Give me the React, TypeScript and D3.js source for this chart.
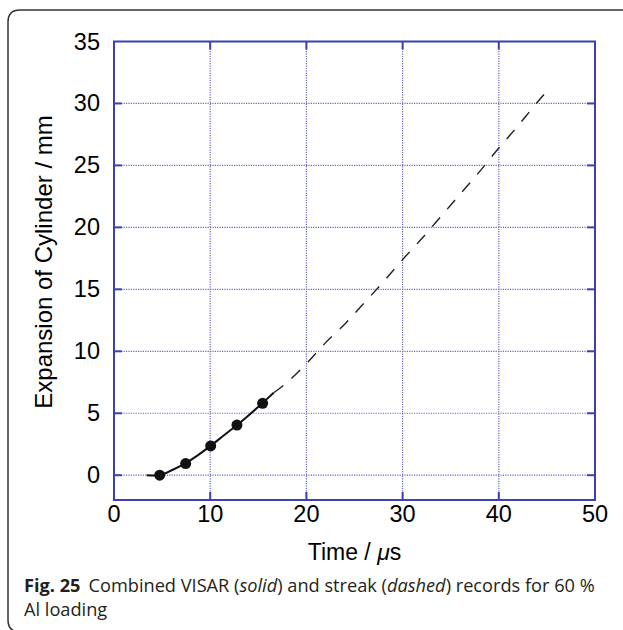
import React from "react";
import * as d3 from "d3";

const xTicks = [0, 10, 20, 30, 40, 50];
const yTicks = [0, 5, 10, 15, 20, 25, 30, 35];

// VISAR (solid) record
const solidT = [3.4, 4.7, 6.0, 7.4, 8.7, 10.0, 11.4, 12.8, 14.1, 15.4, 16.6];
const solidV = [0, 0, 0.4, 0.95, 1.6, 2.35, 3.2, 4.05, 4.9, 5.8, 6.65];
// VISAR markers
const markT = [4.75, 7.45, 10.05, 12.78, 15.45];
const markV = [0, 0.94, 2.36, 4.05, 5.8];
// streak (dashed) record
const dashT = [16.6, 18, 20, 22, 24, 26, 28, 30, 32, 34, 36, 38, 40, 42, 44, 45];
const dashV = [6.65, 7.5, 9.0, 10.7, 12.2, 13.9, 15.6, 17.4, 19.1, 20.9, 22.7, 24.5, 26.4, 28.2, 30.1, 31.0];

const W = 623;
const H = 630;
const L = 114, R = 595, T = 41.5, B = 500;

export default function App() {
  const x = d3.scaleLinear().domain([0, 50]).range([L, R]);
  const y = d3.scaleLinear().domain([-2, 35]).range([B, T]);
  const line = d3
    .line<[number, number]>()
    .x((d) => x(d[0]))
    .y((d) => y(d[1]))
    .curve(d3.curveCatmullRom);
  const solid = solidT.map((t, i) => [t, solidV[i]] as [number, number]);
  const dashed = dashT.map((t, i) => [t, dashV[i]] as [number, number]);
  const blue = "#3c40b8";
  const grid = "#6a6ac4";
  const tick = 8;
  const font = "'Liberation Sans', Arial, sans-serif";
  const capFont = "'Open Sans', 'Noto Sans', sans-serif";
  return (
    <svg
      width={W}
      height={H}
      style={{ position: "absolute", left: 0, top: 0, background: "#fff" }}
    >
      <path
        d="M640,10 L20,10 Q8,10 8,22 L8,620 Q8,632 20,632 L640,632"
        fill="none"
        stroke="#333"
        strokeWidth={1.5}
      />
      {/* grid */}
      {xTicks.slice(1, -1).map((t) => (
        <line
          key={"gx" + t}
          x1={x(t)}
          x2={x(t)}
          y1={T}
          y2={B}
          stroke={grid}
          strokeWidth={1.2}
          strokeDasharray="1.2 1.2"
        />
      ))}
      {yTicks.filter((t) => t < 35).map((t) => (
        <line
          key={"gy" + t}
          x1={L}
          x2={R}
          y1={y(t)}
          y2={y(t)}
          stroke={grid}
          strokeWidth={1.2}
          strokeDasharray="1.2 1.2"
        />
      ))}
      {/* ticks */}
      {xTicks.slice(1, -1).map((t) => (
        <g key={"tx" + t} stroke={blue} strokeWidth={2}>
          <line x1={x(t)} x2={x(t)} y1={B} y2={B - tick} />
          <line x1={x(t)} x2={x(t)} y1={T} y2={T + tick} />
        </g>
      ))}
      {yTicks.filter((t) => t < 35).map((t) => (
        <g key={"ty" + t} stroke={blue} strokeWidth={2}>
          <line x1={L} x2={L + tick} y1={y(t)} y2={y(t)} />
          <line x1={R} x2={R - tick} y1={y(t)} y2={y(t)} />
        </g>
      ))}
      <rect
        x={L}
        y={T}
        width={R - L}
        height={B - T}
        fill="none"
        stroke={blue}
        strokeWidth={2}
      />
      {/* data */}
      <path d={line(solid) || ""} fill="none" stroke="#111" strokeWidth={2} />
      <path
        d={line(dashed) || ""}
        fill="none"
        stroke="#222"
        strokeWidth={1.4}
        strokeDasharray="12 11"
      />
      {markT.map((t, i) => (
        <circle key={"m" + i} cx={x(t)} cy={y(markV[i])} r={5.5} fill="#111" />
      ))}
      {/* tick labels */}
      {yTicks.map((t) => (
        <text
          key={"ly" + t}
          x={100}
          y={y(t)}
          textAnchor="end"
          dominantBaseline="central"
          fontFamily={font}
          fontSize={23.5}
          fill="#000"
        >
          {t}
        </text>
      ))}
      {xTicks.map((t) => (
        <text
          key={"lx" + t}
          x={x(t)}
          y={514}
          textAnchor="middle"
          dominantBaseline="central"
          fontFamily={font}
          fontSize={23.5}
          fill="#000"
        >
          {t}
        </text>
      ))}
      <text
        transform={`translate(43,262) rotate(-90)`}
        textAnchor="middle"
        dominantBaseline="central"
        fontFamily={font}
        fontSize={24}
        fill="#000"
      >
        Expansion of Cylinder / mm
      </text>
      <text
        x={(L + R) / 2}
        y={552}
        textAnchor="middle"
        dominantBaseline="central"
        fontFamily={font}
        fontSize={23}
        fill="#000"
      >
        Time / <tspan fontStyle="italic">μ</tspan>s
      </text>
      {/* caption */}
      <text x={24} y={592} fontFamily={capFont} fontSize={18.2} fill="#231f20">
        <tspan fontWeight="bold">Fig. 25</tspan>
        <tspan dx={8}>Combined VISAR (</tspan>
        <tspan fontStyle="italic">solid</tspan>
        <tspan>) and streak (</tspan>
        <tspan fontStyle="italic">dashed</tspan>
        <tspan>) records for 60 %</tspan>
      </text>
      <text x={24} y={616} fontFamily={capFont} fontSize={18.2} fill="#231f20">
        Al loading
      </text>
    </svg>
  );
}
